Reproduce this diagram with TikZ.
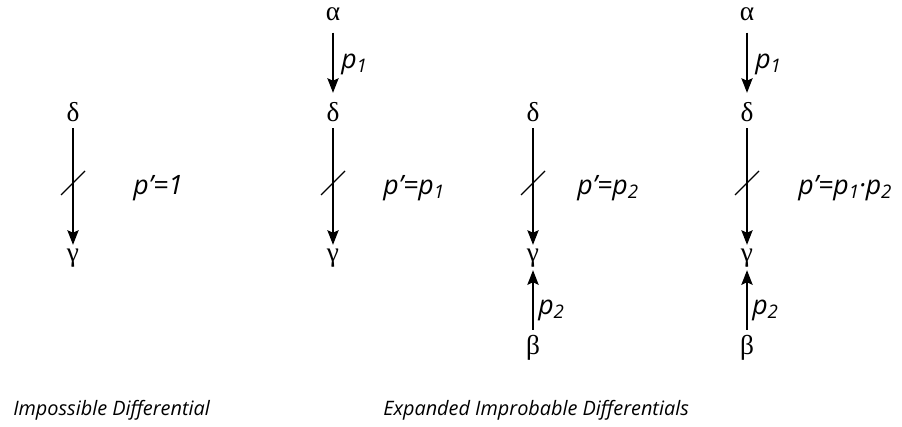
\documentclass[tikz,border=0pt]{standalone}
\usepackage{fontspec}
\setmainfont{Open Sans}
\newfontfamily\grk{Liberation Serif}
\usetikzlibrary{arrows.meta,calc}
\newcommand{\sbs}[1]{\raisebox{-3pt}{\fontsize{14}{14}\selectfont #1}}
\tikzset{
  greek/.style={font=\grk\fontsize{20.5}{20.5}\selectfont, inner sep=0pt, outer sep=0pt},
  arr/.style={line width=1.2pt, -{Stealth[length=11pt,width=8.5pt,inset=2pt]}},
  cut/.style={line width=0.9pt},
  lbl/.style={anchor=base west, inner sep=0pt, font=\itshape\fontsize{20}{20}\selectfont},
  caption/.style={anchor=base west, inner sep=0pt, font=\itshape\fontsize{14.9}{14.9}\selectfont}
}
\begin{document}
\begin{tikzpicture}[x=0.75pt,y=-0.75pt]
        \useasboundingbox (0,0) rectangle (902,426);
        \node[greek] (d1) at (73,112.5) {δ};
        \node[greek] (g1) at (73,258) {γ};
        \draw[arr,shorten <=4.5pt,shorten >=3pt] (d1) -- coordinate[pos=0.48] (m1) (g1);
        \draw[cut] ($(m1)+(-12,12)$) -- ($(m1)+(12,-12)$);
        \node[lbl] (q1) at (133,194) {p’=1};
        \node[greek] (a2) at (333,14) {α};
        \node[greek] (d2) at (333,112.5) {δ};
        \node[greek] (g2) at (333,258) {γ};
        \draw[arr,shorten <=9pt,shorten >=7.5pt] (a2) -- (d2);
        \node[lbl] (r2) at (341,68) {p\sbs{1}};
        \draw[arr,shorten <=4.5pt,shorten >=3pt] (d2) -- coordinate[pos=0.48] (m2) (g2);
        \draw[cut] ($(m2)+(-12,12)$) -- ($(m2)+(12,-12)$);
        \node[lbl] (q2) at (383,194) {p’=p\sbs{1}};
        \node[greek] (d3) at (533,112.5) {δ};
        \node[greek] (g3) at (533,258) {γ};
        \node[greek] (b3) at (533,347.5) {β};
        \draw[arr,shorten <=4.5pt,shorten >=3pt] (d3) -- coordinate[pos=0.48] (m3) (g3);
        \draw[cut] ($(m3)+(-12,12)$) -- ($(m3)+(12,-12)$);
        \draw[arr,shorten <=3.75pt,shorten >=2.25pt] (b3) -- (g3);
        \node[lbl] (r3) at (538,314) {p\sbs{2}};
        \node[lbl] (q3) at (577,194) {p’=p\sbs{2}};
        \node[greek] (a4) at (747,14) {α};
        \node[greek] (d4) at (747,112.5) {δ};
        \node[greek] (g4) at (747,258) {γ};
        \node[greek] (b4) at (747,347.5) {β};
        \draw[arr,shorten <=9pt,shorten >=7.5pt] (a4) -- (d4);
        \node[lbl] (r4) at (755,68) {p\sbs{1}};
        \draw[arr,shorten <=4.5pt,shorten >=3pt] (d4) -- coordinate[pos=0.48] (m4) (g4);
        \draw[cut] ($(m4)+(-12,12)$) -- ($(m4)+(12,-12)$);
        \draw[arr,shorten <=3.75pt,shorten >=2.25pt] (b4) -- (g4);
        \node[lbl] (s4) at (752,314) {p\sbs{2}};
        \node[lbl] (q4) at (798,194) {p’=p\sbs{1}·p\sbs{2}};
        \node[caption] (t1) at (13,415) {Impossible Differential};
        \node[caption] (t2) at (383,415) {Expanded Improbable Differentials};
\end{tikzpicture}
\end{document}
